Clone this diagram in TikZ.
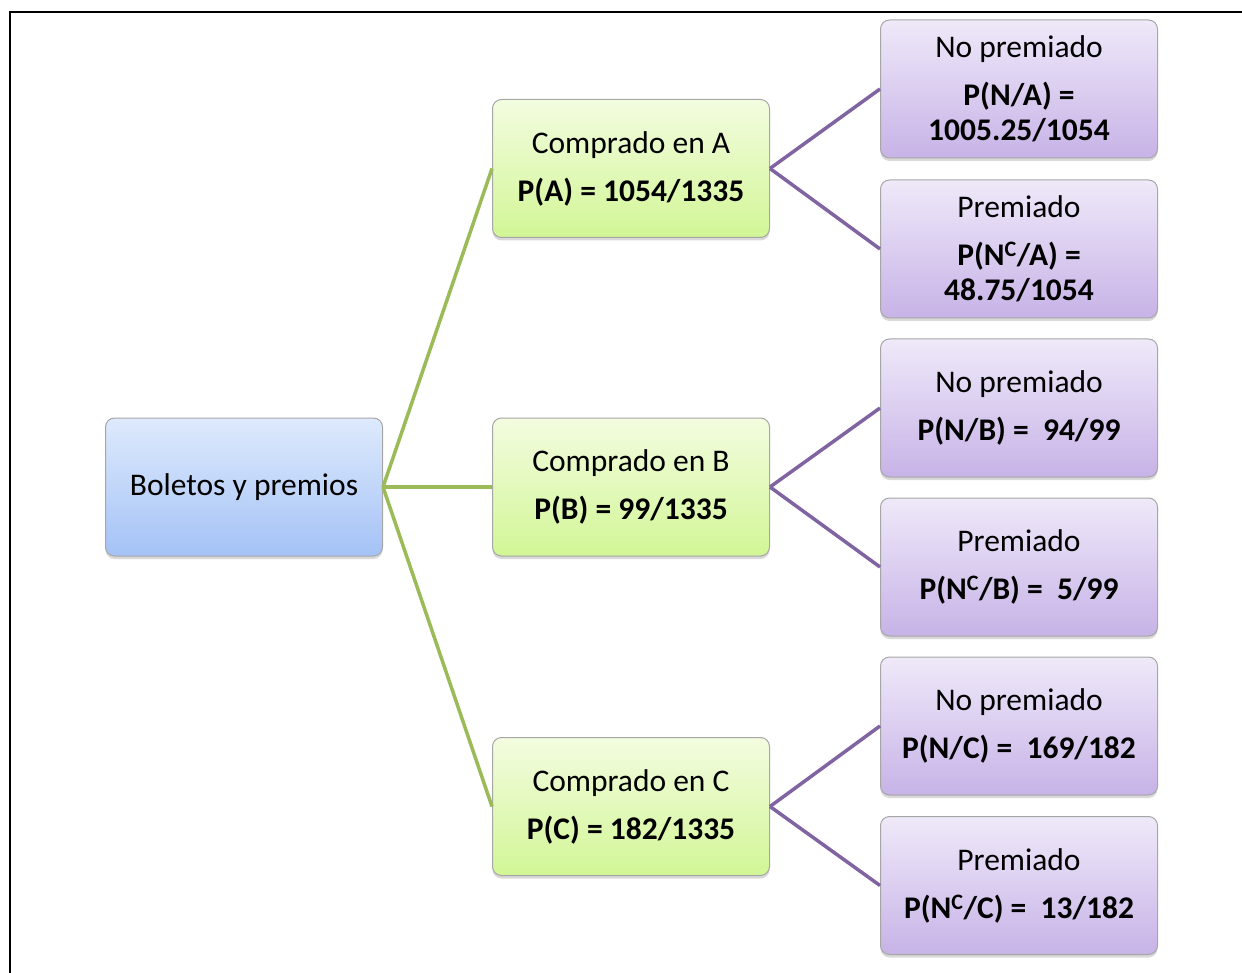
\documentclass[tikz,border=0pt]{standalone}
\usepackage{fontspec}
\setmainfont{Carlito}
\usetikzlibrary{positioning, shadows}
\definecolor{AzulSup}{RGB}{222,234,252}
\definecolor{AzulInf}{RGB}{164,194,246}
\definecolor{VerdeSup}{RGB}{243,252,224}
\definecolor{VerdeInf}{RGB}{210,246,150}
\definecolor{LilaSup}{RGB}{239,233,249}
\definecolor{LilaInf}{RGB}{199,179,231}
\definecolor{Verde}{RGB}{155,187,89}
\definecolor{Lila}{RGB}{128,100,162}

\begin{document}
\begin{tikzpicture}[
  x=1pt, y=-1pt,
  caja/.style={
    rectangle, rounded corners=9pt,
    draw=gray!70, line width=1pt,
    minimum width=277pt, minimum height=138pt,
    align=center, inner sep=2pt,
    font=\fontsize{31.5}{35}\selectfont,
    drop shadow={shadow xshift=0pt, shadow yshift=-3pt, opacity=0.3}
  },
  raiz/.style={caja, top color=AzulSup, bottom color=AzulInf},
  compra/.style={caja, top color=VerdeSup, bottom color=VerdeInf},
  premio/.style={caja, top color=LilaSup, bottom color=LilaInf},
  rama1/.style={Verde, line width=3.5pt},
  rama2/.style={Lila, line width=3.5pt}
]

\useasboundingbox (0,0) rectangle (1242,973);

%% marco
\draw[line width=2.2pt] (10,973) -- (10,12) -- (1242,12);

%% raiz
\node[raiz] (R) at (244,487) {Boletos y premios};

%% nivel 1: lugar de compra
\node[compra] (A) at (631,168.5) {Comprado en A\\[13pt]\textbf{P(A) = 1054/1335}};
\node[compra] (B) at (631,487)   {Comprado en B\\[13pt]\textbf{P(B) = 99/1335}};
\node[compra] (C) at (631,806.5) {Comprado en C\\[13pt]\textbf{P(C) = 182/1335}};

%% nivel 2: premiado / no premiado
\node[premio] (AN)  at (1019,89)  {No premiado\\[13pt]\textbf{P(N/A) =}\\\textbf{1005.25/1054}};
\node[premio] (ANc) at (1019,249) {Premiado\\[13pt]\textbf{P(N\textsuperscript{C}/A) =}\\\textbf{48.75/1054}};
\node[premio] (BN)  at (1019,408) {No premiado\\[13pt]\textbf{P(N/B) = \ 94/99}};
\node[premio] (BNc) at (1019,567) {Premiado\\[13pt]\textbf{P(N\textsuperscript{C}/B) = \ 5/99}};
\node[premio] (CN)  at (1019,726) {No premiado\\[13pt]\textbf{P(N/C) = \ 169/182}};
\node[premio] (CNc) at (1019,885.5) {Premiado\\[13pt]\textbf{P(N\textsuperscript{C}/C) = \ 13/182}};

%% ramas
\foreach \n in {A,B,C}
  \draw[rama1] (R.east) -- (\n.west);
\foreach \n in {A,B,C} {
  \draw[rama2] (\n.east) -- (\n N.west);
  \draw[rama2] (\n.east) -- (\n Nc.west);
}

\end{tikzpicture}
\end{document}
